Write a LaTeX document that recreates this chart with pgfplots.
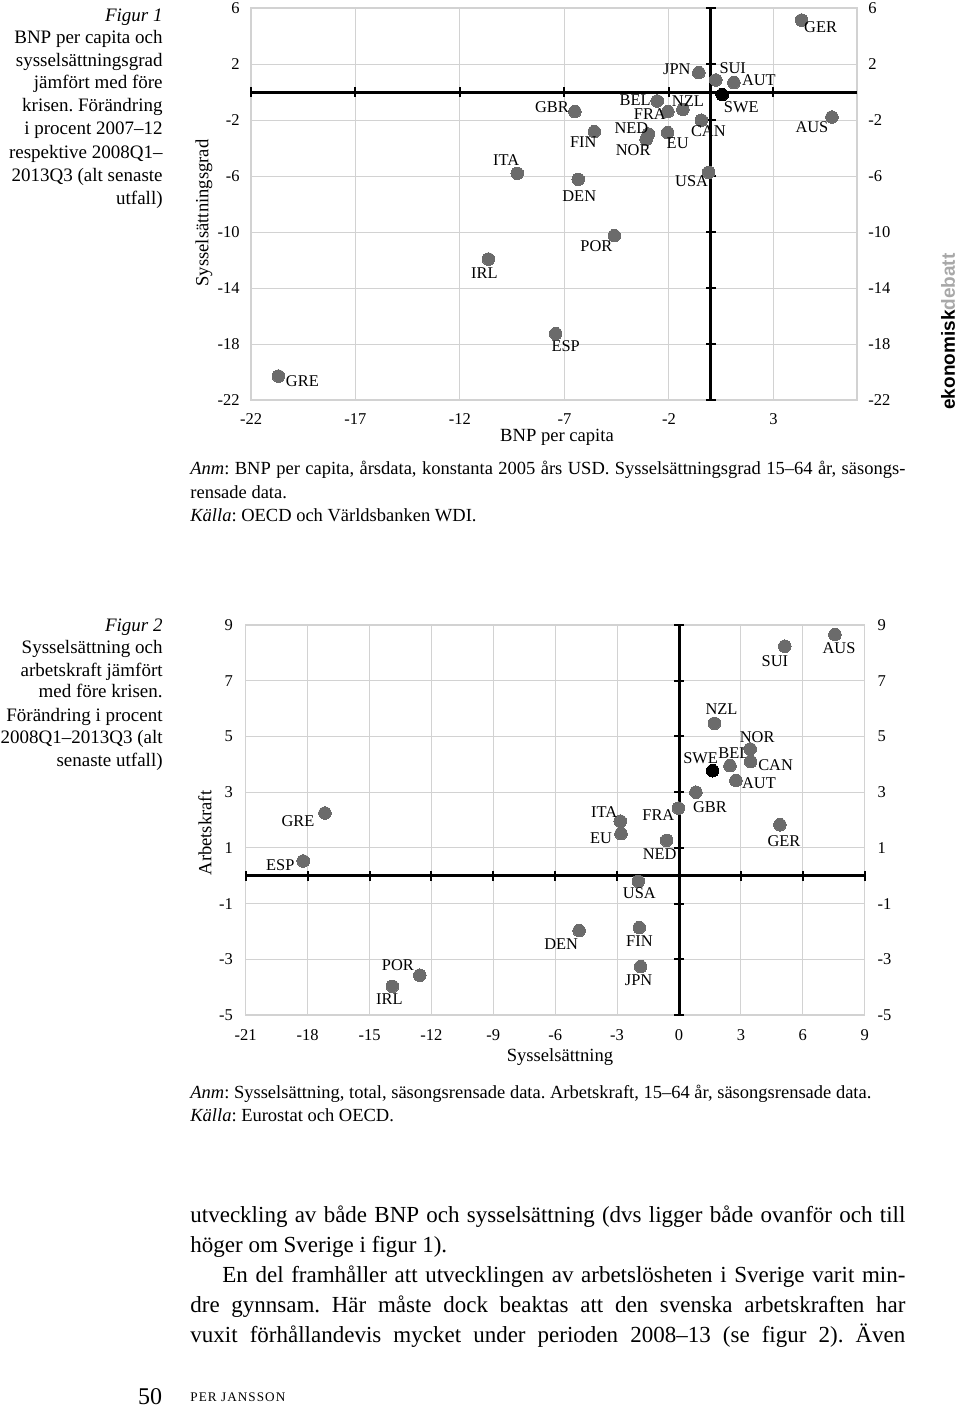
\documentclass[border=0pt]{standalone}
\usepackage{pgfplots}
\pgfplotsset{compat=1.18}
\usepackage{pgfplotstable}
\usepackage{fontspec}
\setmainfont{Liberation Serif}
\newfontfamily\logofont{Liberation Sans}
\definecolor{dotgray}{HTML}{6B6B6B}
\definecolor{gridgray}{HTML}{D2D2D2}
\definecolor{logogray}{HTML}{A8A8A8}
\newcommand\capf{\fontsize{9.5pt}{11.5pt}\selectfont}
\newcommand\notef{\fontsize{9.25pt}{11.75pt}\selectfont}
\newcommand\tickf{\fontsize{8.25pt}{9pt}\selectfont}
\newcommand\labf{\fontsize{8.2pt}{9pt}\selectfont}
\newcommand\axf{\fontsize{9.3pt}{11pt}\selectfont}
\frenchspacing

\pgfplotstableread{
x y dx dy lab
4.35 5.14 19 -7 GER
-0.57 1.38 -22 3 JPN
0.24 0.86 17 12 SUI
1.11 0.67 25 2 AUT
-2.56 -0.64 -22 1 BEL
-2.05 -1.40 -18 -2 FRA
-1.33 -1.24 5 8 NZL
-6.50 -1.40 -23 4 GBR
-0.45 -2.02 7 -11 CAN
5.80 -1.79 -20 -10 AUS
-5.57 -2.83 -11 -11 FIN
-2.98 -3.00 -17 6 NED
-3.09 -3.38 -13 -11 NOR
-2.06 -2.90 10 -11 EU
-0.10 -5.74 -17 -9 USA
-6.34 -6.24 1 -17 DEN
-9.26 -5.81 -11 13 ITA
-4.61 -10.26 -18 -11 POR
-10.64 -11.93 -4 -14 IRL
-7.42 -17.26 10 -13 ESP
-20.69 -20.29 24 -5 GRE
}\figAdata
\pgfplotstableread{
x y dx dy lab
0.55 -0.19 19 -13 SWE
}\figAswe

\pgfplotstableread{
x y dx dy lab
7.56 8.66 4 -14 AUS
5.13 8.24 -10 -15 SUI
1.72 5.47 7 14 NZL
3.45 4.55 7 12 NOR
2.47 3.95 4 13 BEL
3.47 4.10 25 -4 CAN
2.76 3.42 23 -3 AUT
0.82 3.00 14 -15 GBR
-0.03 2.43 -20 -7 FRA
4.89 1.83 4 -16 GER
-0.60 1.27 -7 -14 NED
-2.85 1.96 -16 9 ITA
-2.81 1.51 -20 -5 EU
-1.97 -0.20 1 -12 USA
-17.16 2.25 -27 -8 GRE
-18.21 0.53 -23 -4 ESP
-4.84 -1.97 -18 -14 DEN
-1.92 -1.86 0 -14 FIN
-1.86 -3.26 -2 -14 JPN
-12.56 -3.57 -22 10 POR
-13.89 -3.97 -3 -13 IRL
}\figBdata
\pgfplotstableread{
x y dx dy lab
1.63 3.77 -12 13 SWE
}\figBswe

\pgfplotsset{
  myax/.style={
    scale only axis, clip=false, anchor=south west,
    axis line style={gridgray, line width=0.6pt},
    grid=major, grid style={gridgray, line width=0.5pt},
    major tick length=0pt,
    tick label style={font=\tickf, inner sep=0pt},
    xticklabel style={anchor=center, yshift=-9.5pt},
    yticklabel style={anchor=east, xshift=-5.5pt},
  },
  rightlab/.style={
    scale only axis, anchor=south west, hide x axis,
    axis y line*=right, y axis line style={draw=none},
    major tick length=0pt,
    yticklabel style={font=\tickf, inner sep=0pt, anchor=west, xshift=5.5pt},
  },
  dots/.style={
    only marks, color=#1, mark=*, mark size=3.15pt,
    mark options={draw=#1, fill=#1, line width=0pt},
    point meta=explicit symbolic,
    nodes near coords,
    visualization depends on={\thisrow{dx} \as \dx},
    visualization depends on={\thisrow{dy} \as \dy},
    every node near coord/.append style={anchor=center, inner sep=0pt,
      xshift=\dx*0.5pt, yshift=\dy*0.5pt, font=\labf, text=black},
  },
  crossline/.style={black, line width=1.5pt, forget plot},
  crosstick/.style={only marks, mark=#1, mark size=2.4pt,
    mark options={black, line width=1pt}, forget plot},
}

\begin{document}
\begin{tikzpicture}[x=0.5pt, y=0.5pt]
\useasboundingbox (0,0) rectangle (960,-1409);

% ---------- Figure 1 caption
\begin{scope}[every node/.style={anchor=base east, inner sep=0pt, font=\capf}]
\node at (163,-21.5) {\textit{Figur 1}};
\node at (163,-43) {BNP per capita och};
\node at (163,-66) {sysselsättningsgrad};
\node at (163,-88) {jämfört med före};
\node at (163,-111) {krisen. Förändring};
\node at (163,-134.5) {i procent 2007–12};
\node at (163,-158) {respektive 2008Q1–};
\node at (163,-181.5) {2013Q3 (alt senaste};
\node at (163,-204.5) {utfall)};
\end{scope}

% ---------- Figure 1 chart
\begin{axis}[myax, at={(125.5pt,-200pt)}, width=303pt, height=196pt,
  xmin=-22, xmax=7, ymin=-22, ymax=6,
  xtick={-22,-17,-12,-7,-2,3}, xticklabels={-22,-17,-12,-7,-2,3},
  ytick={-22,-18,-14,-10,-6,-2,2,6}, yticklabels={-22,-18,-14,-10,-6,-2,2,6}]
\addplot[crossline] coordinates {(-22,0) (7,0)};
\addplot[crossline] coordinates {(0,-22) (0,6)};
\addplot[crosstick=|] coordinates {(-22,0) (-17,0) (-12,0) (-7,0) (-2,0) (3,0)};
\addplot[crosstick=-] coordinates {(0,6) (0,2) (0,-2) (0,-6) (0,-10) (0,-14) (0,-18) (0,-22)};
\addplot[dots=dotgray] table[meta=lab] {\figAdata};
\addplot[dots=black] table[meta=lab] {\figAswe};
\end{axis}
\begin{axis}[rightlab, at={(125.5pt,-200pt)}, width=303pt, height=196pt,
  xmin=-22, xmax=7, ymin=-22, ymax=6,
  ytick={-22,-18,-14,-10,-6,-2,2,6}, yticklabels={-22,-18,-14,-10,-6,-2,2,6}]
\addplot[draw=none, forget plot] coordinates {(0,0)};
\end{axis}
\node[font=\axf, inner sep=0pt] at (557,-437) {BNP per capita};
\node[font=\axf, inner sep=0pt, rotate=90] at (204,-213) {Sysselsättningsgrad};

% logo
\node[rotate=90, anchor=west, inner sep=0pt] at (948,-410)
  {\logofont\bfseries\fontsize{9.5pt}{10pt}\selectfont ekonomisk\textcolor{logogray}{debatt}};

% ---------- Figure 1 notes
\node[anchor=base west, inner sep=0pt] at (190,-474.5) {\parbox[t]{357.5pt}{\notef
\textit{Anm}: BNP per capita, årsdata, konstanta 2005 års USD. Sysselsättningsgrad 15–64 år, säsongs-\linebreak rensade data.\par
\textit{Källa}: OECD och Världsbanken WDI.}};

% ---------- Figure 2 caption
\begin{scope}[every node/.style={anchor=base east, inner sep=0pt, font=\capf}]
\node at (163,-631) {\textit{Figur 2}};
\node at (163,-653) {Sysselsättning och};
\node at (163,-676) {arbetskraft jämfört};
\node at (163,-697) {med före krisen.};
\node at (163,-721) {Förändring i procent};
\node at (163,-743) {2008Q1–2013Q3 (alt};
\node at (163,-766) {senaste utfall)};
\end{scope}

% ---------- Figure 2 chart
\begin{axis}[myax, at={(122.85pt,-507.5pt)}, width=309.5pt, height=195pt,
  xmin=-21, xmax=9, ymin=-5, ymax=9,
  xtick={-21,-18,-15,-12,-9,-6,-3,0,3,6,9}, xticklabels={-21,-18,-15,-12,-9,-6,-3,0,3,6,9},
  ytick={-5,-3,-1,1,3,5,7,9}, yticklabels={-5,-3,-1,1,3,5,7,9},
  xticklabel style={yshift=-0.5pt},
  yticklabel style={xshift=-0.75pt}]
\addplot[crossline] coordinates {(-21,0) (9,0)};
\addplot[crossline] coordinates {(0,-5) (0,9)};
\addplot[crosstick=|] coordinates {(-21,0) (-18,0) (-15,0) (-12,0) (-9,0) (-6,0) (-3,0) (3,0) (6,0) (9,0)};
\addplot[crosstick=-] coordinates {(0,9) (0,7) (0,5) (0,3) (0,1) (0,-1) (0,-3) (0,-5)};
\addplot[dots=dotgray] table[meta=lab] {\figBdata};
\addplot[dots=black] table[meta=lab] {\figBswe};
\end{axis}
\begin{axis}[rightlab, at={(122.85pt,-507.5pt)}, width=309.5pt, height=195pt,
  xmin=-21, xmax=9, ymin=-5, ymax=9,
  ytick={-5,-3,-1,1,3,5,7,9}, yticklabels={-5,-3,-1,1,3,5,7,9},
  yticklabel style={xshift=0.75pt}]
\addplot[draw=none, forget plot] coordinates {(0,0)};
\end{axis}
\node[font=\axf, inner sep=0pt] at (560,-1057) {Sysselsättning};
\node[font=\axf, inner sep=0pt, rotate=90] at (205,-833) {Arbetskraft};

% ---------- Figure 2 notes
\begin{scope}[every node/.style={anchor=base west, inner sep=0pt, font=\notef}]
\node at (190,-1098) {\textit{Anm}: Sysselsättning, total, säsongsrensade data. Arbetskraft, 15–64 år, säsongsrensade data.};
\node at (190,-1121) {\textit{Källa}: Eurostat och OECD.};
\end{scope}

% ---------- Body text
\node[anchor=base west, inner sep=0pt] at (190,-1222) {\parbox[t]{357.5pt}{\fontsize{11.5pt}{15pt}\selectfont
utveckling av både BNP och sysselsättning (dvs ligger både ovanför och till\linebreak
höger om Sverige i figur 1).\par
\hspace*{16pt}En del framhåller att utvecklingen av arbetslösheten i Sverige varit min-\linebreak
dre gynnsam. Här måste dock beaktas att den svenska arbetskraften har\linebreak
vuxit förhållandevis mycket under perioden 2008–13 (se figur 2). Även{\parfillskip=0pt\par}}};

% ---------- Footer
\node[anchor=base, inner sep=0pt, font=\fontsize{12pt}{14pt}\selectfont] at (150,-1404) {50};
\node[anchor=base west, inner sep=0pt] at (190,-1401)
  {\fontsize{6.6pt}{8pt}\selectfont\addfontfeatures{LetterSpace=8}PER JANSSON};
\end{tikzpicture}
\end{document}
